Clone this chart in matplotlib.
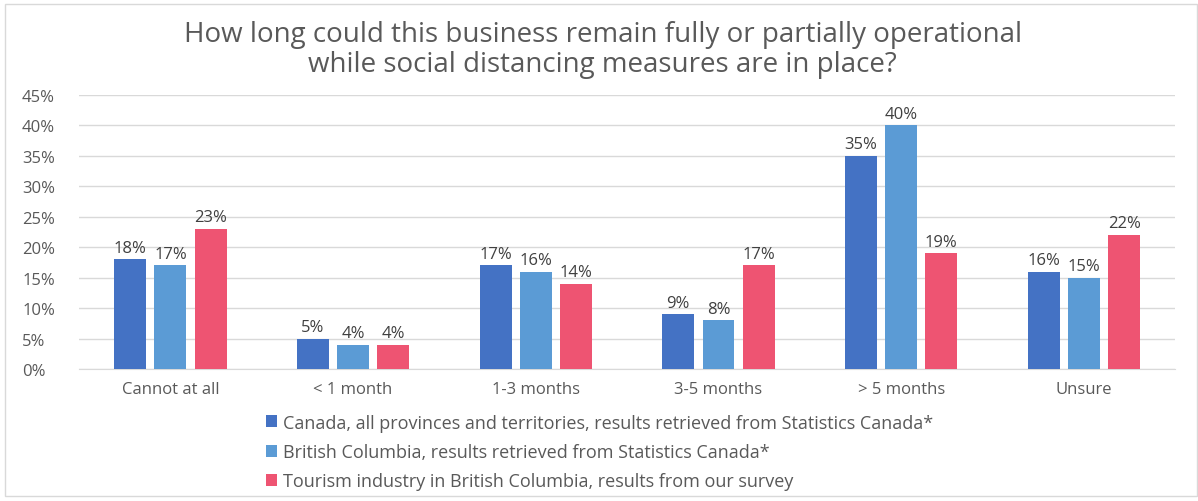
"""Grouped bar chart: how long businesses can stay operational under distancing."""

import matplotlib
import numpy as np

matplotlib.use("Agg")
import matplotlib.pyplot as plt
from matplotlib.patches import Rectangle

CATEGORIES = ["Cannot at all", "< 1 month", "1-3 months", "3-5 months", "> 5 months", "Unsure"]
CANADA = [18, 5, 17, 9, 35, 16]
BC = [17, 4, 16, 8, 40, 15]
TOURISM = [23, 4, 14, 17, 19, 22]
SERIES_LABELS = [
    "Canada, all provinces and territories, results retrieved from Statistics Canada*",
    "British Columbia, results retrieved from Statistics Canada*",
    "Tourism industry in British Columbia, results from our survey",
]
COLORS = ["#4472C4", "#5B9BD5", "#EE5472"]
TEXT = "#595959"

plt.rcParams["font.family"] = ["Open Sans", "DejaVu Sans"]

fig = plt.figure(figsize=(11.98, 5.02), dpi=100)
ax = fig.add_axes([0.066, 0.263, 0.915, 0.546])

x = np.arange(len(CATEGORIES))
width = 0.175
step = 0.22
for i, (vals, label, color) in enumerate(zip([CANADA, BC, TOURISM], SERIES_LABELS, COLORS)):
    pos = x + (i - 1) * step
    bars = ax.bar(pos, [v / 100 for v in vals], width, color=color, label=label, zorder=3)
    for b, v in zip(bars, vals):
        ax.text(b.get_x() + b.get_width() / 2, b.get_height() + 0.006, f"{v}%",
                ha="center", va="bottom", fontsize=12, color="#404040")

ax.set_ylim(0, 0.45)
ax.set_xlim(-0.5, len(CATEGORIES) - 0.5)
ticks = np.arange(0, 0.451, 0.05)
ax.set_yticks(ticks)
ax.set_yticklabels([f"{int(round(t * 100))}%" for t in ticks])
ax.set_xticks(x)
ax.set_xticklabels(CATEGORIES)
ax.tick_params(axis="both", length=0, labelsize=12, colors=TEXT)
ax.tick_params(axis="y", pad=41)
ax.tick_params(axis="x", pad=9)
ax.grid(axis="y", color="#d9d9d9", linewidth=1, zorder=0)
for s in ["top", "right", "left"]:
    ax.spines[s].set_visible(False)
ax.spines["bottom"].set_color("#d9d9d9")
for lbl in ax.get_yticklabels():
    lbl.set_horizontalalignment("left")

fig.text(0.503, 0.9, "How long could this business remain fully or partially operational\n"
         "while social distancing measures are in place?",
         ha="center", va="center", fontsize=20, color=TEXT, linespacing=1.12)

fig.legend(loc="upper left", bbox_to_anchor=(0.222, 0.174), frameon=False, fontsize=13,
           labelcolor=TEXT, handlelength=0.62, handleheight=0.62, handletextpad=0.33,
           labelspacing=0.63, borderaxespad=0, borderpad=0)

fig.patches.append(Rectangle((0.004, 0.01), 0.995, 0.98, transform=fig.transFigure,
                             fill=False, edgecolor="#d9d9d9", linewidth=1))

plt.savefig("out.png", dpi=100)
plt.close()
